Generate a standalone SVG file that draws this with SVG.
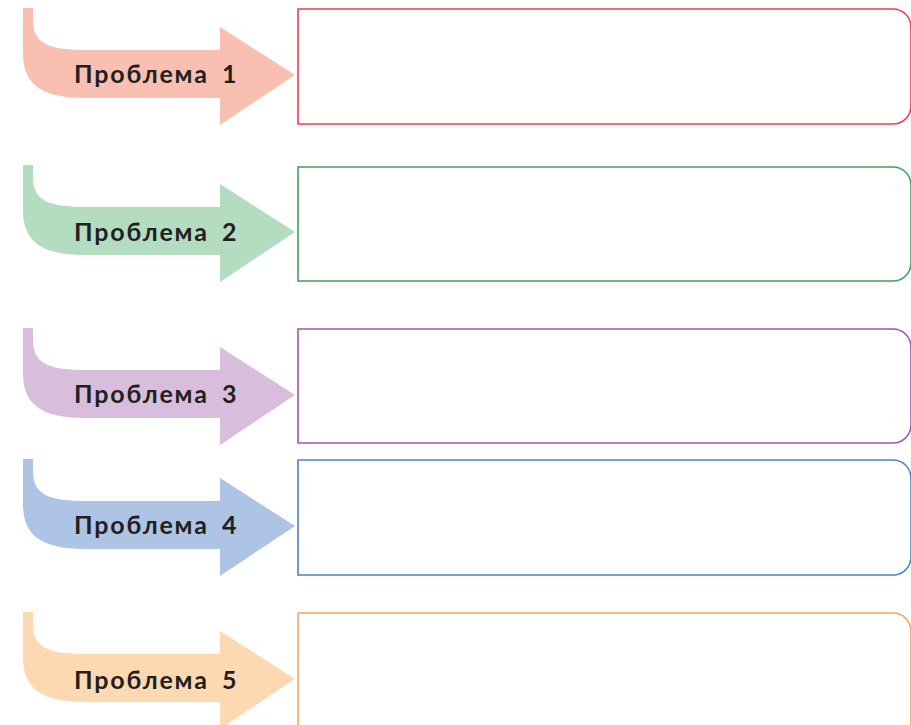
<svg xmlns="http://www.w3.org/2000/svg" width="911" height="725" viewBox="0 0 911 725">
<defs>
<path id="arr" d="M23,0 L33,0 L33,12 C33,34 46,42 85,42 L220,42 L220,19 L295,67 L220,117 L220,90 L85,90 C38,90 23,74 23,45 Z"/>
</defs>
<style>
.lbl{font-family:"Lato","Open Sans","Liberation Sans",sans-serif;font-weight:700;font-size:25px;fill:#231f20;}
.box{fill:#fff;stroke-width:1.6;}
</style>
<rect width="911" height="725" fill="#fff"/>
<g id="node1">
<use href="#arr" transform="translate(0,8)" fill="#f9bfb1"/>
<path class="box" d="M298,9 H893 A18,18 0 0 1 911,27 V106 A18,18 0 0 1 893,124 H298 Z" stroke="#ea3c55"/>
<text class="lbl" y="83"><tspan x="74" textLength="133">Проблема</tspan><tspan x="222">1</tspan></text>
</g>
<g id="node2">
<use href="#arr" transform="translate(0,165)" fill="#b3dcc1"/>
<path class="box" d="M298,167 H893 A18,18 0 0 1 911,185 V263 A18,18 0 0 1 893,281 H298 Z" stroke="#3ca35c"/>
<text class="lbl" y="241"><tspan x="74" textLength="133">Проблема</tspan><tspan x="222">2</tspan></text>
</g>
<g id="node3">
<use href="#arr" transform="translate(0,328)" fill="#d8bddc"/>
<path class="box" d="M298,329 H893 A18,18 0 0 1 911,347 V425 A18,18 0 0 1 893,443 H298 Z" stroke="#a653ab"/>
<text class="lbl" y="403"><tspan x="74" textLength="133">Проблема</tspan><tspan x="222">3</tspan></text>
</g>
<g id="node4">
<use href="#arr" transform="translate(0,459)" fill="#aec4e4"/>
<path class="box" d="M298,460 H893 A18,18 0 0 1 911,478 V557 A18,18 0 0 1 893,575 H298 Z" stroke="#4f80c5"/>
<text class="lbl" y="534"><tspan x="74" textLength="133">Проблема</tspan><tspan x="222">4</tspan></text>
</g>
<g id="node5">
<use href="#arr" transform="translate(0,612)" fill="#fdd9b1"/>
<path class="box" d="M298,727 V613 H893 A18,18 0 0 1 911,631 V727" stroke="#f6a361"/>
<text class="lbl" y="689"><tspan x="74" textLength="133">Проблема</tspan><tspan x="222">5</tspan></text>
</g>
<g id="connectors"></g>
</svg>
